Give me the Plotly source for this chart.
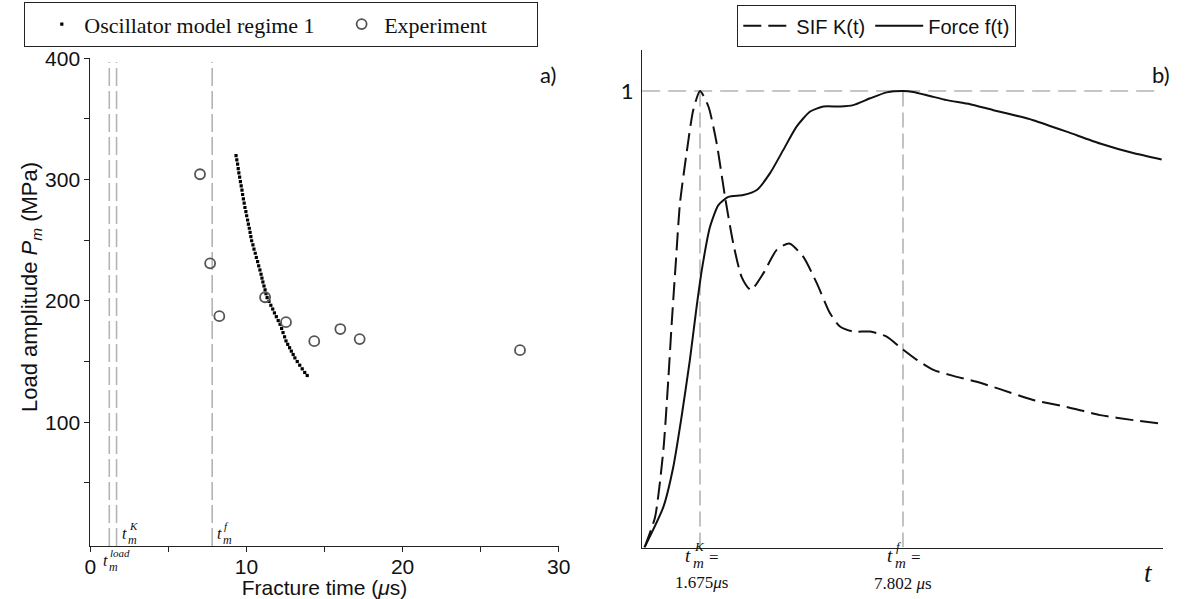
import plotly.graph_objects as go

W, H = 1185, 599

# ---------------- panel a) data ----------------
osc_time = [9.33, 9.38, 9.43, 9.47, 9.51, 9.56, 9.61, 9.66, 9.71, 9.75, 9.80, 9.85,
            9.90, 9.96, 10.01, 10.07, 10.12, 10.18, 10.23, 10.28,
            10.33, 10.41, 10.48, 10.56, 10.63, 10.71, 10.78, 10.86,
            10.93, 10.99, 11.05, 11.12, 11.19, 11.25,
            11.32, 11.44, 11.56, 11.68, 11.79, 11.91, 12.03,
            12.15, 12.25, 12.34, 12.44,
            12.53, 12.64, 12.76, 12.87, 12.99,
            13.10, 13.25, 13.41, 13.57, 13.73, 13.89]
osc_load = [319.8, 316.2, 312.7, 309.1, 305.5, 302.0, 298.4, 294.8, 291.3, 287.7, 284.1, 280.6,
            277.0, 273.6, 270.2, 266.7, 263.3, 259.9, 256.5, 253.0,
            249.6, 246.2, 242.7, 239.3, 235.8, 232.4, 228.9, 225.5,
            222.0, 218.8, 215.6, 212.3, 209.1, 205.9,
            202.7, 199.6, 196.4, 193.3, 190.1, 187.0, 183.8,
            180.7, 177.3, 173.9, 170.4,
            167.0, 164.2, 161.4, 158.6, 155.8,
            153.0, 150.0, 147.0, 144.0, 141.0, 138.5]
exp_time = [7.02, 7.67, 8.26, 11.19, 12.53, 14.34, 16.01, 17.25, 27.52]
exp_load = [304.4, 231.0, 187.4, 203.0, 182.5, 166.8, 176.8, 168.5, 159.4]
t_load = 1.21
t_K = 1.675
t_f = 7.802
a_xticks = [0, 10, 20, 30]
a_yticks = [100, 200, 300, 400]

# ---------------- panel b) data ----------------
sif_t = [0, 0.32, 0.57, 0.72, 0.82, 0.95, 1.07, 1.27, 1.47, 1.675, 1.93, 2.18, 2.43, 2.68,
         2.93, 3.21, 3.59, 3.99, 4.37, 4.79, 5.20, 5.60, 5.90, 6.30, 6.81, 7.31, 7.76,
         8.22, 8.72, 9.32, 10.03, 10.73, 11.73, 12.74, 13.75, 14.75, 15.50]
sif_k = [0, 0.067, 0.214, 0.37, 0.49, 0.63, 0.754, 0.864, 0.958, 1.0, 0.966, 0.885, 0.768,
         0.666, 0.593, 0.564, 0.601, 0.652, 0.666, 0.637, 0.579, 0.513, 0.484, 0.473,
         0.473, 0.462, 0.436, 0.411, 0.389, 0.376, 0.363, 0.347, 0.323, 0.308, 0.290,
         0.279, 0.272]
force_t = [0, 0.57, 0.87, 1.12, 1.37, 1.56, 1.73, 1.98, 2.23, 2.53, 2.98, 3.39, 3.79, 4.19,
           4.59, 5.00, 5.40, 5.90, 6.30, 6.81, 7.31, 7.802, 8.11, 8.62, 9.12, 9.83, 10.53,
           11.33, 11.73, 12.74, 13.75, 14.75, 15.61]
force_f = [0, 0.089, 0.177, 0.287, 0.411, 0.52, 0.608, 0.703, 0.75, 0.768, 0.772, 0.783,
           0.82, 0.871, 0.922, 0.955, 0.966, 0.966, 0.969, 0.984, 0.997, 1.0, 0.998, 0.989,
           0.98, 0.971, 0.958, 0.944, 0.936, 0.911, 0.885, 0.864, 0.85]

GREY = '#b4b4b4'
INK = '#111111'
SANS = 'Liberation Sans, Arial, sans-serif'
SERIF = 'Liberation Serif, Times New Roman, serif'
CAL = 'Lato, Carlito, sans-serif'
NB = '\u00a0'

fig = go.Figure()

fig.add_trace(go.Scatter(
    x=osc_time, y=osc_load, mode='markers', name='Oscillator model regime 1' + NB,
    marker=dict(symbol='square', size=3.2, color='black'),
    xaxis='x', yaxis='y', legend='legend'))
fig.add_trace(go.Scatter(
    x=exp_time, y=exp_load, mode='markers',
    name='Experiment' + NB * 8,
    marker=dict(symbol='circle-open', size=10, color='#555555', line=dict(width=1.8, color='#555555')),
    xaxis='x', yaxis='y', legend='legend'))

fig.add_trace(go.Scatter(
    x=sif_t, y=sif_k, mode='lines', name='SIF K(t)',
    line=dict(color=INK, width=2, dash='18px,7px', shape='spline', smoothing=0.6),
    xaxis='x2', yaxis='y2', legend='legend2'))
fig.add_trace(go.Scatter(
    x=force_t, y=force_f, mode='lines', name='Force f(t)',
    line=dict(color=INK, width=2, shape='spline', smoothing=0.6),
    xaxis='x2', yaxis='y2', legend='legend2'))

shapes = []
for tv in [t_load, t_K, t_f]:
    shapes.append(dict(type='line', xref='x', yref='y', x0=tv, x1=tv, y0=-2, y1=397,
                       line=dict(color=GREY, width=1.6, dash='18px,5px'), layer='below'))
shapes.append(dict(type='line', xref='x2', yref='y2', x0=-0.07, x1=15.55, y0=1, y1=1,
                   line=dict(color=GREY, width=1.6, dash='18px,8px'), layer='below'))
for tv in [t_K, t_f]:
    shapes.append(dict(type='line', xref='x2', yref='y2', x0=tv, x1=tv, y0=0, y1=1,
                       line=dict(color=GREY, width=1.6, dash='15px,6px'), layer='below'))


def P(px, py):
    return px / W, 1 - py / H


annotations = []


def txt(px, py, text, size, family=SERIF, xanchor='left', yanchor='middle', angle=0):
    x, y = P(px, py)
    annotations.append(dict(xref='paper', yref='paper', x=x, y=y, text=text, showarrow=False,
                            xanchor=xanchor, yanchor=yanchor, textangle=angle, borderpad=0,
                            font=dict(family=family, size=size, color=INK)))


def tm(px, py, sup, size=16):
    # t with stacked subscript m and superscript
    txt(px, py, '<i>t</i>', size)
    txt(px + 0.4 * size, py + 0.42 * size, '<i>m</i>', int(round(size * 0.78)))
    txt(px + 0.45 * size, py - 0.45 * size, '<i>%s</i>' % sup, int(round(size * 0.7)))


# y-axis title of panel a)
txt(31, 287, 'Load amplitude <i>P</i><sub><i>m</i></sub> (MPa)', 22, family=SANS,
    xanchor='center', angle=-90)
# panel a) time labels
tm(121, 533, 'K')
tm(215.5, 533, 'f')
tm(102, 560, 'load')
# panel b) time labels
tm(684, 555, 'K', size=19)
txt(708, 557, '=', 17)
txt(701, 582, '1.675<i>μ</i>s', 17, xanchor='center')
tm(886, 555, 'f', size=19)
txt(910, 557, '=', 17)
txt(903, 583, '7.802 <i>μ</i>s', 17, xanchor='center')
txt(1148, 573, '<i>t</i>', 27, xanchor='center')
# panel tags
txt(548, 75, 'a)', 22, family=CAL, xanchor='center')
txt(1161, 75, 'b)', 22, family=CAL, xanchor='center')

axis_common = dict(showgrid=False, zeroline=False, showline=True, linecolor='#222', linewidth=1.2,
                   tickcolor='#222', automargin=False)

fig.update_layout(
    width=W, height=H, margin=dict(l=0, r=0, t=0, b=0, autoexpand=False),
    paper_bgcolor='white', plot_bgcolor='white',
    shapes=shapes, annotations=annotations,
    xaxis=dict(domain=[90.4 / W, 558.7 / W], range=[0, 30], anchor='y',
               tickvals=a_xticks, ticks='outside', ticklen=5, tickwidth=1.2,
               tickfont=dict(family=SANS, size=21, color=INK), ticklabelstandoff=-3,
               minor=dict(tickvals=[5, 15, 25], ticks='outside', ticklen=5, tickwidth=1.2, tickcolor='#222'),
               title=dict(text='Fracture time (<i>μ</i>s)', font=dict(family=SANS, size=21, color=INK),
                          standoff=0),
               **axis_common),
    yaxis=dict(domain=[1 - 546 / H, 1 - 58.3 / H], range=[-2.06, 400], anchor='x',
               tickvals=a_yticks, ticks='outside', ticklen=5, tickwidth=1.2,
               tickfont=dict(family=SANS, size=21, color=INK),
               minor=dict(tickvals=[50, 150, 250, 350], ticks='outside', ticklen=5, tickwidth=1.2, tickcolor='#222'),
               **axis_common),
    xaxis2=dict(domain=[642 / W, 1163 / W], range=[-0.0755, 15.65], anchor='y2',
                showticklabels=False, ticks='', **axis_common),
    yaxis2=dict(domain=[1 - 547.5 / H, 1 - 50 / H], range=[0, 1.0898], anchor='x2',
                tickvals=[1], ticktext=['1'], ticks='', ticklabelstandoff=3,
                tickfont=dict(family=CAL, size=22, color=INK), **axis_common),
    legend=dict(x=24 / W, y=1 - 2 / H, xanchor='left', yanchor='top', orientation='h',
                bordercolor='#222', borderwidth=1.3, bgcolor='white', itemwidth=35,
                font=dict(family=SERIF, size=22, color=INK), indentation=14),
    legend2=dict(x=737 / W, y=1 - 5 / H, xanchor='left', yanchor='top', orientation='h',
                 bordercolor='#222', borderwidth=1.3, bgcolor='white', itemwidth=48,
                 font=dict(family=SANS, size=20, color=INK)),
)

fig.write_html('out.html')
